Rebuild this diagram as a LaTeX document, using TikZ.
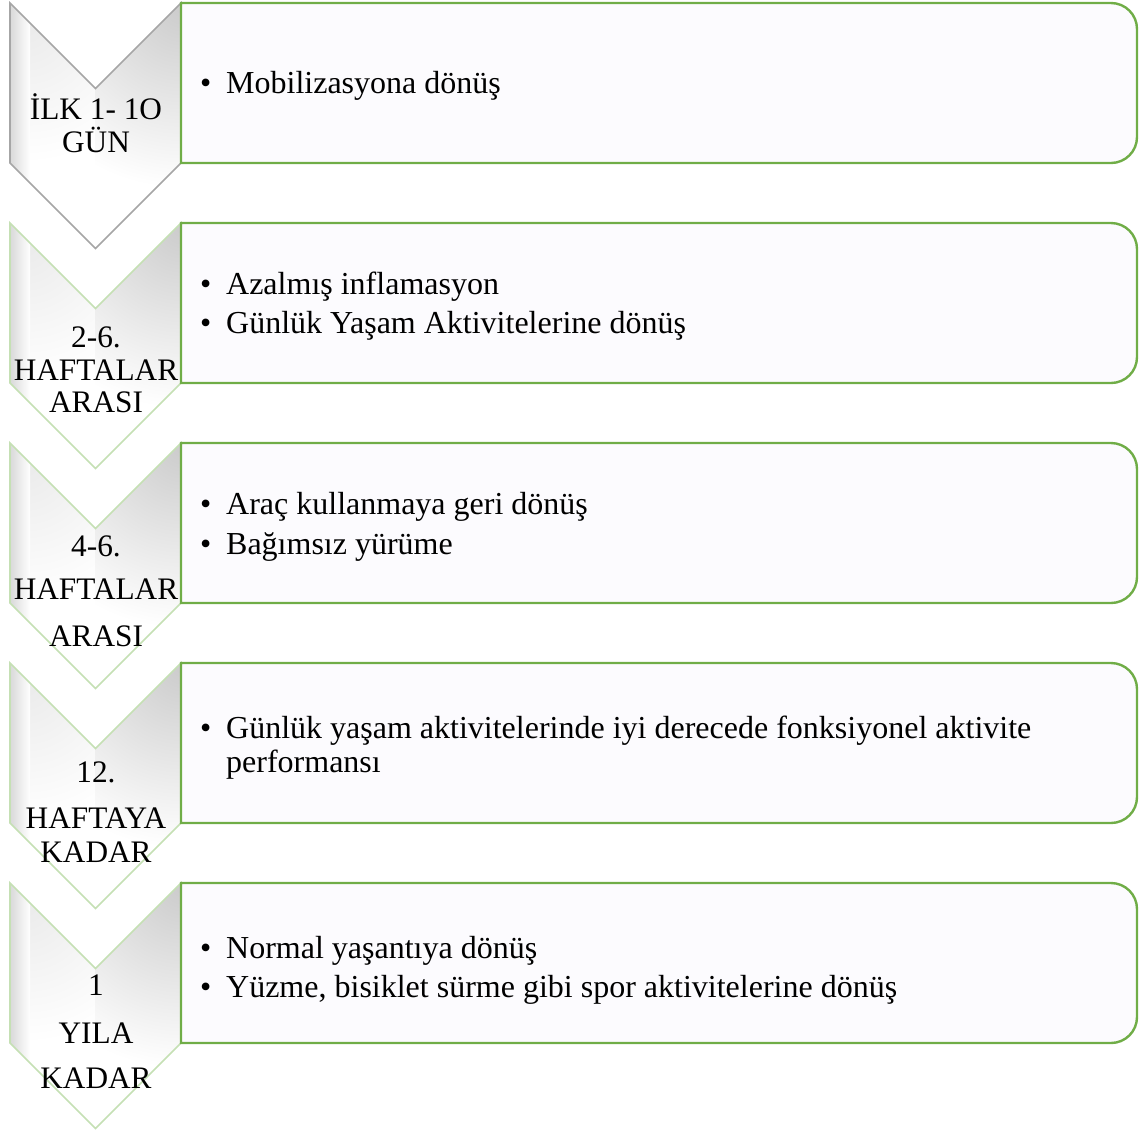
\documentclass[tikz,border=0pt]{standalone}
\usepackage{fontspec}
\setmainfont{Liberation Serif}
\definecolor{boxgreen}{RGB}{112,173,71}
\definecolor{lightgreen}{RGB}{197,224,180}
\definecolor{boxfill}{RGB}{252,251,254}
\begin{document}
\begin{tikzpicture}[x=1pt,y=-1pt,
  boxstyle/.style={draw=boxgreen,line width=2.4pt,fill=boxfill},
  lbl/.style={anchor=base,inner sep=0pt,font=\fontsize{31.3}{33}\selectfont},
  itm/.style={anchor=base west,inner sep=0pt,align=left,font=\fontsize{32}{34}\selectfont}]
\useasboundingbox (0,0) rectangle (1139,1133);
\newcommand\mychev[2]{%
  \begin{scope}
  \clip (10,#1) -- (95.5,#1+85.5) -- (181,#1) -- (181,#1+160) -- (95.5,#1+245.5) -- (10,#1+160) -- cycle;
  \fill[white] (0,#1) rectangle (190,#1+250);
  \begin{scope}
  \clip (10,#1) -- (95.5,#1+85.5) -- (95.5,#1+250) -- (10,#1+250) -- cycle;
  \shade[inner color=black!8,outer color=white] (25,#1+20) circle (140);
  \end{scope}
  \begin{scope}
  \clip (95.5,#1+85.5) -- (181,#1) -- (181,#1+250) -- (95.5,#1+250) -- cycle;
  \shade[inner color=black!20,outer color=white] (181,#1+5) circle (180);
  \end{scope}
  \shade[left color=black!15,right color=white] (10,#1) rectangle (30,#1+250);
  \end{scope}
  \draw[#2,line width=1.6pt,line join=miter] (10,#1) -- (95.5,#1+85.5) -- (181,#1) -- (181,#1+160) -- (95.5,#1+245.5) -- (10,#1+160) -- cycle;}
\newcommand\mybox[1]{%
  \draw[boxstyle] (181,#1) [rounded corners=26pt] -- (1137,#1) -- (1137,#1+160) [sharp corners] -- (181,#1+160) -- cycle;}
\mychev{3}{black!35}
\mychev{223}{lightgreen}
\mychev{443}{lightgreen}
\mychev{663}{lightgreen}
\mychev{883}{lightgreen}
\mybox{3}
\mybox{223}
\mybox{443}
\mybox{663}
\mybox{883}
% row 1
\node[lbl] (l1a) at (96,119) {İLK 1- 1O};
\node[lbl] (l1b) at (96,152) {GÜN};
\node[itm] (t1a) at (200,93) {\makebox[26pt][l]{•}Mobilizasyona dönüş};
% row 2
\node[lbl] (l2a) at (96,347) {2-6.};
\node[lbl] (l2b) at (96,380) {HAFTALAR};
\node[lbl] (l2c) at (96,412) {ARASI};
\node[itm] (t2a) at (200,294) {\makebox[26pt][l]{•}Azalmış inflamasyon};
\node[itm] (t2b) at (200,333) {\makebox[26pt][l]{•}Günlük Yaşam Aktivitelerine dönüş};
% row 3
\node[lbl] (l3a) at (96,556) {4-6.};
\node[lbl] (l3b) at (96,599) {HAFTALAR};
\node[lbl] (l3c) at (96,646) {ARASI};
\node[itm] (t3a) at (200,514) {\makebox[26pt][l]{•}Araç kullanmaya geri dönüş};
\node[itm] (t3b) at (200,554) {\makebox[26pt][l]{•}Bağımsız yürüme};
% row 4
\node[lbl] (l4a) at (96,782) {12.};
\node[lbl] (l4b) at (96,828) {HAFTAYA};
\node[lbl] (l4c) at (96,862) {KADAR};
\node[itm] (t4a) at (200,772) {\makebox[26pt][l]{•}Günlük yaşam aktivitelerinde iyi derecede fonksiyonel aktivite\\\hspace*{26pt}performansı};
% row 5
\node[lbl] (l5a) at (96,995) {1};
\node[lbl] (l5b) at (96,1043) {YILA};
\node[lbl] (l5c) at (96,1088) {KADAR};
\node[itm] (t5a) at (200,958) {\makebox[26pt][l]{•}Normal yaşantıya dönüş};
\node[itm] (t5b) at (200,997) {\makebox[26pt][l]{•}Yüzme, bisiklet sürme gibi spor aktivitelerine dönüş};
\end{tikzpicture}
\end{document}
